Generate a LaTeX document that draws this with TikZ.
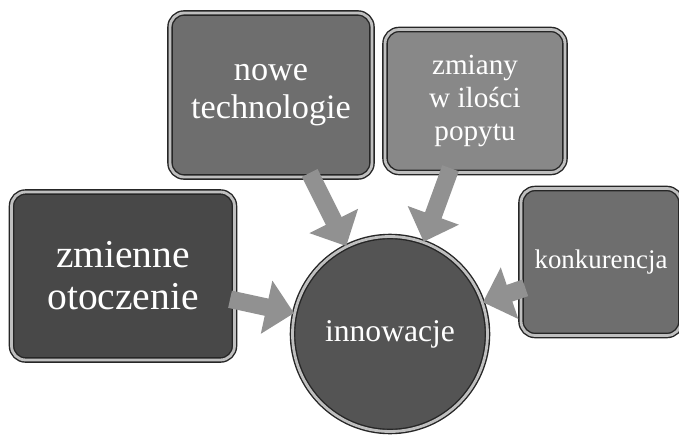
\documentclass[tikz,border=0pt]{standalone}
\usepackage{fontspec}
\setmainfont{Liberation Serif}
\usetikzlibrary{arrows.meta}
\definecolor{boxdark}{RGB}{72,72,72}
\definecolor{boxmid}{RGB}{110,110,110}
\definecolor{boxlight}{RGB}{136,136,136}
\definecolor{hubgray}{RGB}{84,84,84}
\definecolor{flowgray}{RGB}{145,145,145}

\begin{document}
\begin{tikzpicture}[
    x=0.02cm, y=-0.02cm,
    box/.style={rectangle, rounded corners=8pt, draw=black!85, line width=0.8pt, double=black!25, double distance=1.6pt, text=white, align=center, inner sep=2pt},
    hub/.style={circle, draw=black!85, line width=0.8pt, double=black!25, double distance=1.6pt, text=white, align=center, minimum size=3.9cm},
    flow/.style={draw=flowgray, line width=10pt, -{Triangle[width=30pt,length=16pt]}, shorten <=-3pt}
]
    \useasboundingbox (0,0) rectangle (679,436);

    % Central circle
    \node[hub, fill=hubgray, font=\fontsize{18}{20}\selectfont] (innov) at (390,334) {innowacje};

    % Factors
    \node[box, fill=boxdark, minimum width=4.46cm, minimum height=3.36cm, font=\fontsize{22.5}{24}\selectfont] (zmienne) at (123,276) {zmienne\\otoczenie};
    \node[box, fill=boxmid, minimum width=4.04cm, minimum height=3.28cm, font=\fontsize{19.5}{22}\selectfont] (nowe) at (271,95) {nowe\\technologie};
    \node[box, fill=boxlight, minimum width=3.6cm, minimum height=2.86cm, font=\fontsize{16.6}{19}\selectfont] (popyt) at (475,101) {zmiany\\w ilości\\popytu};
    \node[box, fill=boxmid, minimum width=3.2cm, minimum height=2.94cm, font=\fontsize{15.3}{18}\selectfont] (konk) at (601,262) {konkurencja};

    % Arrows
    \draw[flow] (zmienne) -- (innov);
    \draw[flow] (nowe) -- (innov);
    \draw[flow] (popyt) -- (innov);
    \draw[flow] (konk) -- (innov);
\end{tikzpicture}
\end{document}
